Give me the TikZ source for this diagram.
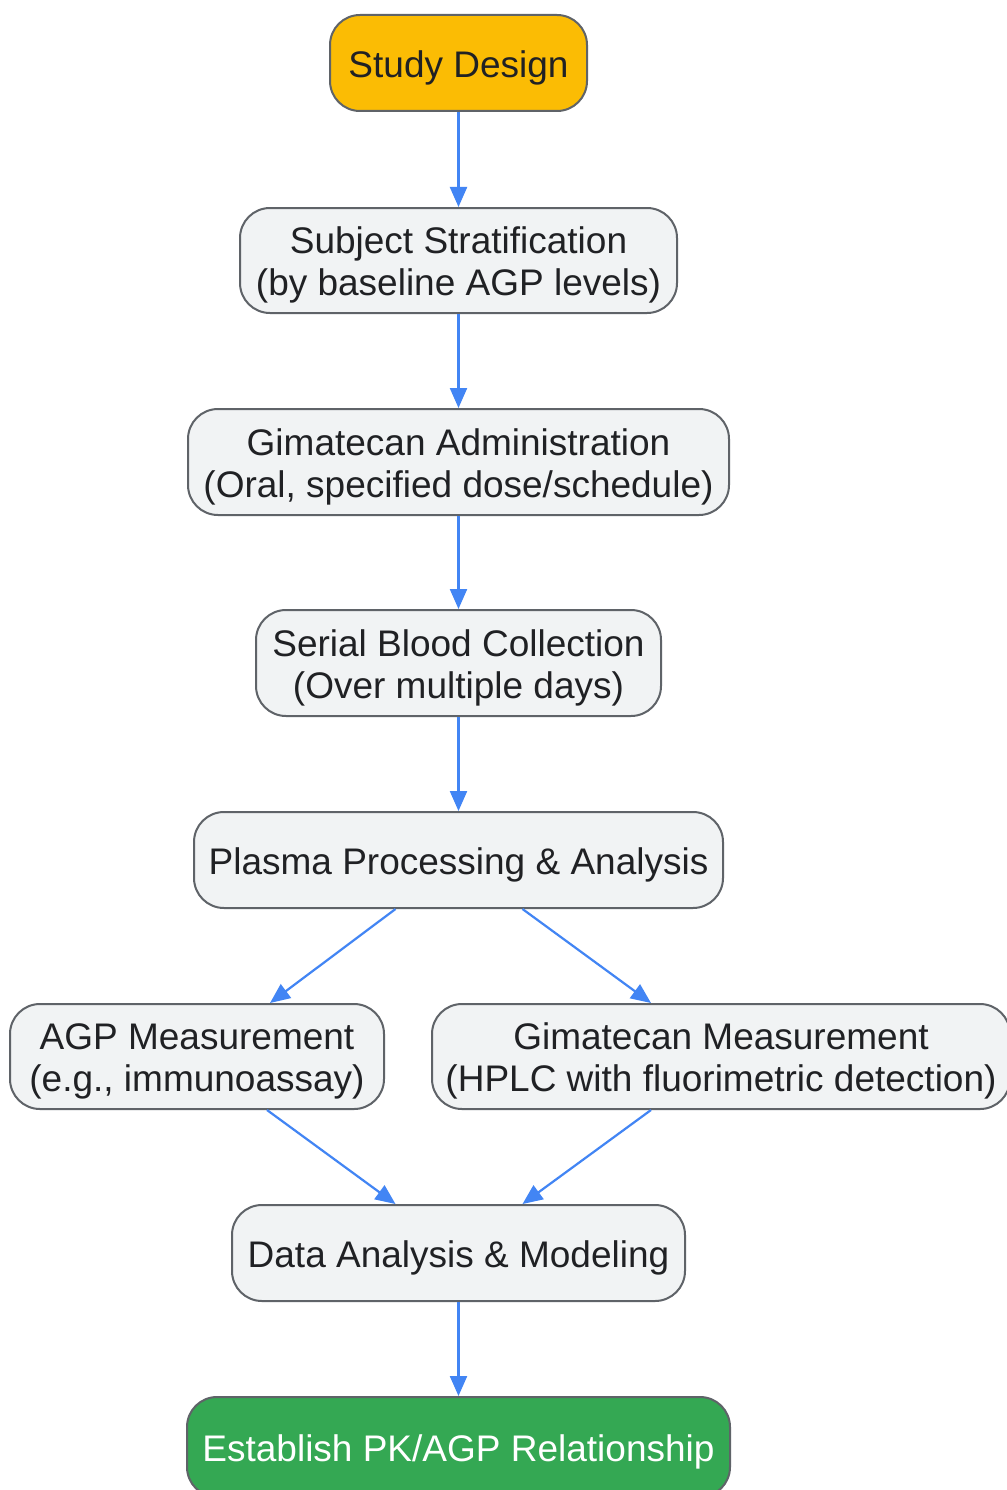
\documentclass[tikz,border=0pt]{standalone}
\usepackage{fontspec}
\setmainfont{Liberation Sans}
\usetikzlibrary{arrows.meta,calc}
\definecolor{boxfill}{HTML}{F1F3F4}
\definecolor{boxline}{HTML}{5F6368}
\definecolor{txt}{HTML}{202124}
\definecolor{arrowblue}{HTML}{4285F4}
\definecolor{startyellow}{HTML}{FBBC04}
\definecolor{endgreen}{HTML}{34A853}
\newcommand{\topstrut}{\rule{0pt}{36pt}}
\tikzset{
  box/.style={draw=boxline, line width=2pt, fill=boxfill, rounded corners=30pt,
    align=center, inner sep=0pt, text=txt,
    font=\fontsize{37}{42}\selectfont},
  conn/.style={draw=arrowblue, line width=2.2pt, -{Triangle[length=20pt,width=17pt]}}
}
\begin{document}
\begin{tikzpicture}[x=1pt,y=-1pt]
\useasboundingbox (0,0) rectangle (1006,1490);
\fill[white] (0,0) rectangle (1006,1490);
\node[box, fill=startyellow, minimum width=257pt, minimum height=96pt] (sd) at (458.5,63) {\topstrut Study Design};
\node[box, minimum width=437pt, minimum height=105pt] (ss) at (458.5,260.5) {\topstrut Subject Stratification\\(by baseline AGP levels)};
\node[box, minimum width=541pt, minimum height=106pt] (ga) at (458.5,462) {\topstrut Gimatecan Administration\\(Oral, specified dose/schedule)};
\node[box, minimum width=405pt, minimum height=106pt] (sb) at (458.5,663) {\topstrut Serial Blood Collection\\(Over multiple days)};
\node[box, minimum width=529pt, minimum height=96pt] (pp) at (458.5,860) {\topstrut Plasma Processing \& Analysis};
\node[box, minimum width=374pt, minimum height=105pt] (agp) at (197,1056.5) {\topstrut AGP Measurement\\(e.g., immunoassay)};
\node[box, minimum width=578pt, minimum height=105pt] (gm) at (721,1056.5) {\topstrut Gimatecan Measurement\\(HPLC with fluorimetric detection)};
\node[box, minimum width=453pt, minimum height=96pt] (da) at (458.5,1253) {\topstrut Data Analysis \& Modeling};
\node[box, fill=endgreen, text=white, minimum width=543pt, minimum height=100pt] (ep) at (458.5,1447) {\topstrut Establish PK/AGP Relationship};
\draw[conn] (sd.south) -- (ss.north);
\draw[conn] (ss.south) -- (ga.north);
\draw[conn] (ga.south) -- (sb.north);
\draw[conn] (sb.south) -- (pp.north);
\draw[conn] ($(pp.south)+(-63,0)$) -- ($(agp.north)+(73,0)$);
\draw[conn] ($(pp.south)+(64,0)$) -- ($(gm.north)+(-70,0)$);
\draw[conn] ($(agp.south)+(70,0)$) -- ($(da.north)+(-63,0)$);
\draw[conn] ($(gm.south)+(-70,0)$) -- ($(da.north)+(64,0)$);
\draw[conn] (da.south) -- (ep.north);
\end{tikzpicture}
\end{document}
